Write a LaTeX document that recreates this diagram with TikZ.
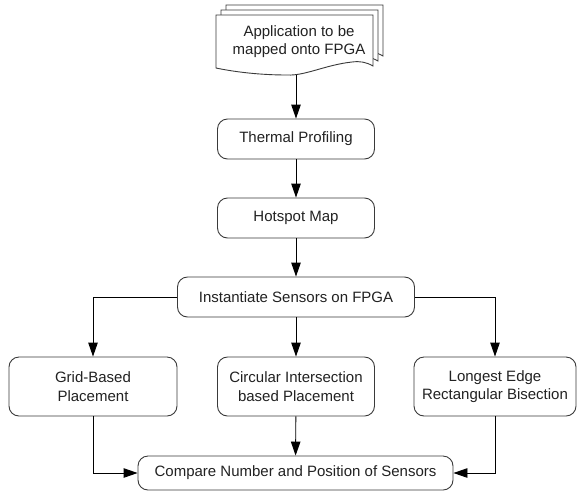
\documentclass[tikz,border=0pt]{standalone}
\usepackage{fontspec}
\setmainfont{Liberation Sans}
\usetikzlibrary{arrows.meta}
\definecolor{bordergray}{HTML}{3A3A3A}
\definecolor{textgray}{HTML}{222222}
\tikzset{
  procbox/.style={draw=bordergray, line width=0.9pt, rounded corners=10pt, fill=white,
    align=center, text=textgray, inner sep=0pt,
    font=\fontsize{15}{18.5}\selectfont},
  conn/.style={draw=black, line width=0.9pt, -{Triangle[length=14pt,width=9.5pt]}},
  pageshape/.style={draw=bordergray, line width=0.9pt, fill=white},
}
\begin{document}
\begin{tikzpicture}[x=1pt,y=-1pt]
\useasboundingbox (0,0) rectangle (577,493);
% document stack
\foreach \dx/\dy in {10/-10,5/-5,0/0}{
  \draw[pageshape, shift={(\dx,\dy)}] (216,68) -- (216,15) -- (373,15) -- (373,66)
    .. controls (366,62) and (360,61) .. (352,62)
    .. controls (325,65) and (305,76) .. (287,75)
    .. controls (260,75) and (235,72) .. (216,68) -- cycle;
}
\node[text=textgray, align=center, font=\fontsize{15}{18.5}\selectfont] (app) at (299,41.5) {Application to be\\mapped onto FPGA};
\coordinate (appbot) at (296,75);

\node[procbox, minimum width=157pt, minimum height=40pt] (thermal) at (296,139) {Thermal Profiling};
\node[procbox, minimum width=157pt, minimum height=40pt] (hotspot) at (296,218) {Hotspot Map};
\node[procbox, minimum width=237pt, minimum height=40pt] (inst) at (296,297) {Instantiate Sensors on FPGA};
\node[procbox, minimum width=168pt, minimum height=59pt] (grid) at (93,386.5) {Grid-Based\\Placement};
\node[procbox, minimum width=157pt, minimum height=59pt] (circ) at (296,386.5) {Circular Intersection\\based Placement};
\node[procbox, minimum width=162pt, minimum height=59pt] (lerb) at (495,386.5) {Longest Edge\\Rectangular Bisection};
\node[procbox, minimum width=315pt, minimum height=34pt] (comp) at (295.5,473) {Compare Number and Position of Sensors};

\draw[conn] (appbot) -- (thermal.north);
\draw[conn] (thermal) -- (hotspot);
\draw[conn] (hotspot) -- (inst);
\draw[conn] (inst.west) -| (grid.north);
\draw[conn] (inst) -- (circ);
\draw[conn] (inst.east) -| (lerb.north);
\draw[conn] (grid.south) |- (comp.west);
\draw[conn] (circ) -- (comp);
\draw[conn] (lerb.south) |- (comp.east);
\end{tikzpicture}
\end{document}
